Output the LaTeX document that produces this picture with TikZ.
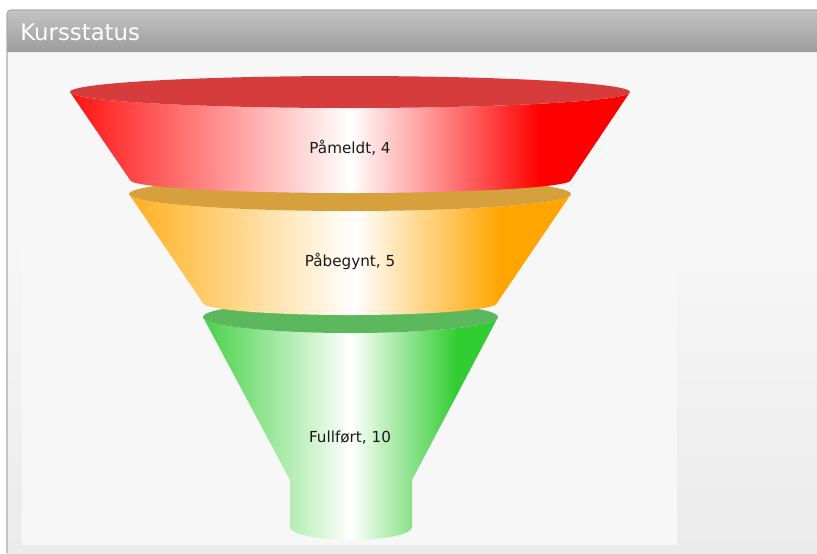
\documentclass[tikz,border=0pt]{standalone}
\usepackage{fontspec}
\setsansfont{DejaVu Sans}
\usepackage{xcolor}
\usetikzlibrary{positioning}
\definecolor{ink}{HTML}{1A1A1A}
\definecolor{bRed}{HTML}{FF0000}
\definecolor{bOrange}{HTML}{FFA500}
\definecolor{bGreen}{HTML}{32CD32}
\definecolor{lidRed}{HTML}{D63C3C}
\definecolor{lidOrange}{HTML}{D6A03C}
\definecolor{lidGreen}{HTML}{5CB85C}
\definecolor{hTop}{HTML}{C4C4C4}
\definecolor{hBot}{HTML}{9C9C9C}
\definecolor{hLine}{HTML}{ABABAB}
\definecolor{paper}{HTML}{F7F7F7}
\definecolor{paperLow}{HTML}{EBEBEB}
\pgfdeclarehorizontalshading{redband}{100bp}{color(0bp)=(bRed); color(25bp)=(bRed!93!white); color(50bp)=(white); color(67bp)=(bRed); color(100bp)=(bRed)}
\pgfdeclarehorizontalshading{orangeband}{100bp}{color(0bp)=(bOrange); color(25bp)=(bOrange!88!white); color(50.5bp)=(white); color(67bp)=(bOrange); color(100bp)=(bOrange)}
\pgfdeclarehorizontalshading{greenband}{100bp}{color(0bp)=(bGreen); color(25bp)=(bGreen!90!white); color(50bp)=(white); color(68bp)=(bGreen); color(100bp)=(bGreen)}
\tikzset{
  lbl/.style={font=\sffamily\fontsize{7.6}{9}\selectfont, text=ink, inner sep=0pt},
  ttl/.style={font=\sffamily\fontsize{11.4}{13}\selectfont, text=white, anchor=west, inner sep=0pt},
}

\begin{document}
\begin{tikzpicture}[x=0.5pt, y=-0.5pt]
\useasboundingbox (0,0) rectangle (817,553);
% panel
\fill[white] (0,0) rectangle (817,553);
\fill[paper] (7,52) rectangle (817,230);
\shade[top color=paper, bottom color=paperLow] (7,230) rectangle (817,553);
\fill[paper] (22,52) rectangle (677,545);
\shade[top color=hTop, bottom color=hBot] (7,52) -- (7,14) arc[start angle=180, end angle=270, radius=4] -- (817,10) -- (817,52) -- cycle;
\draw[hLine, line width=0.6pt] (7,553) -- (7,14) arc[start angle=180, end angle=270, radius=4] -- (817,10);
\node[ttl] (title) at (20,32) {Kursstatus};
% green part
\shade[shading=greenband] (203,317) -- (290,480) -- (290,527) arc[start angle=180, end angle=0, x radius=61, y radius=13] -- (412,480) -- (498,317) arc[start angle=0, end angle=180, x radius=147.5, y radius=16] -- cycle;
\fill[lidGreen] (350.5,317) ellipse[x radius=147.5, y radius=16];
% orange part
\shade[shading=orangeband] (129,194) -- (203,303) arc[start angle=180, end angle=0, x radius=147, y radius=12] -- (571,194) arc[start angle=0, end angle=180, x radius=221, y radius=17] -- cycle;
\fill[lidOrange] (350,194) ellipse[x radius=221, y radius=17];
% red part
\shade[shading=redband] (70,92) -- (130,180) arc[start angle=180, end angle=0, x radius=220.5, y radius=13] -- (630,92) arc[start angle=0, end angle=180, x radius=280, y radius=16] -- cycle;
\fill[lidRed] (350,92) ellipse[x radius=280, y radius=16];
\node[lbl] (pameldt) at (350,148) {Påmeldt, 4};
\node[lbl] (pabegynt) at (350,261) {Påbegynt, 5};
\node[lbl] (fullfort) at (350,438) {Fullført, 10};
\end{tikzpicture}
\end{document}
